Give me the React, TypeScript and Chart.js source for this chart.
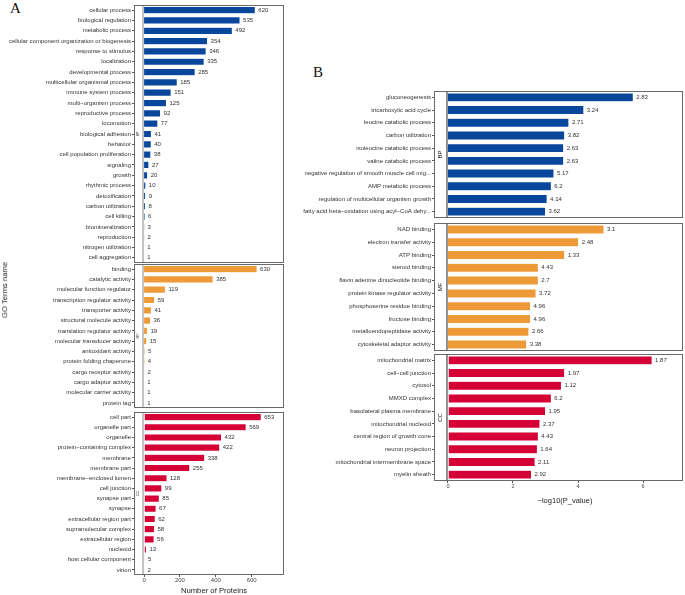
import React, { useEffect, useRef } from "react";
import { Chart, registerables } from "chart.js";
Chart.register(...registerables);

const FONT = "'Liberation Sans', Arial, Helvetica, sans-serif";

// ---------- Panel A (Number of Proteins) ----------
const aBPTerms = [
  "cellular process", "biological regulation", "metabolic process",
  "cellular component organization or biogenesis", "response to stimulus", "localization",
  "developmental process", "multicellular organismal process", "immune system process",
  "multi−organism process", "reproductive process", "locomotion", "biological adhesion",
  "behavior", "cell population proliferation", "signaling", "growth", "rhythmic process",
  "detoxification", "carbon utilization", "cell killing", "biomineralization",
  "reproduction", "nitrogen utilization", "cell aggregation",
];
const aBPCounts = [620, 535, 492, 354, 346, 335, 285, 185, 151, 125, 92, 77, 41, 40, 38, 27, 20, 10, 9, 8, 6, 3, 2, 1, 1];

const aMFTerms = [
  "binding", "catalytic activity", "molecular function regulator",
  "transcription regulator activity", "transporter activity", "structural molecule activity",
  "translation regulator activity", "molecular transducer activity", "antioxidant activity",
  "protein folding chaperone", "cargo receptor activity", "cargo adaptor activity",
  "molecular carrier activity", "protein tag",
];
const aMFCounts = [630, 385, 119, 59, 41, 36, 19, 15, 5, 4, 2, 1, 1, 1];

const aCCTerms = [
  "cell part", "organelle part", "organelle", "protein−containing complex", "membrane",
  "membrane part", "membrane−enclosed lumen", "cell junction", "synapse part", "synapse",
  "extracellular region part", "supramolecular complex", "extracellular region",
  "nucleoid", "host cellular component", "virion",
];
const aCCCounts = [653, 569, 432, 422, 338, 255, 128, 99, 85, 67, 62, 58, 56, 13, 5, 2];

const aXTicks = [0, 200, 400, 600];

// ---------- Panel B (-log10 P value) ----------
const bBPTerms = [
  "gluconeogenesis", "tricarboxylic acid cycle", "leucine catabolic process",
  "carbon utilization", "isoleucine catabolic process", "valine catabolic process",
  "negative regulation of smooth muscle cell mig...", "AMP metabolic process",
  "regulation of multicellular organism growth", "fatty acid beta−oxidation using acyl−CoA dehy...",
];
const bBPValues = [5.70, 4.18, 3.72, 3.59, 3.56, 3.56, 3.26, 3.18, 3.05, 3.0];
const bBPLabels = ["2.83", "3.24", "2.71", "3.82", "2.63", "2.63", "5.17", "6.2", "4.14", "3.62"];

const bMFTerms = [
  "NAD binding", "electron transfer activity", "ATP binding", "steroid binding",
  "flavin adenine dinucleotide binding", "protein kinase regulator activity",
  "phosphoserine residue binding", "fructose binding", "metalloendopeptidase activity",
  "cytoskeletal adaptor activity",
];
const bMFValues = [4.80, 4.02, 3.59, 2.78, 2.78, 2.71, 2.54, 2.54, 2.49, 2.42];
const bMFLabels = ["3.1", "2.48", "1.33", "4.43", "2.7", "3.72", "4.96", "4.96", "2.66", "3.38"];

const bCCTerms = [
  "mitochondrial matrix", "cell−cell junction", "cytosol", "MMXD complex",
  "basolateral plasma membrane", "mitochondrial nucleoid", "central region of growth cone",
  "neuron projection", "mitochondrial intermembrane space", "myelin sheath",
];
const bCCValues = [6.28, 3.59, 3.49, 3.18, 3.0, 2.83, 2.78, 2.75, 2.68, 2.57];
const bCCLabels = ["1.87", "1.97", "1.12", "6.2", "1.95", "2.37", "4.43", "1.64", "2.11", "2.92"];

const bXTicks = [0, 2, 4, 6];

const BLUE = "#08479c";
const ORANGE = "#ef9a38";
const RED = "#d40036";

type FacetProps = {
  left: number; top: number; width: number; height: number;
  terms: string[]; values: number[]; labels: string[];
  color: string; xMin: number; xMax: number; xTicks: number[] | null;
  padTop: number; padBottom: number; padRight: number;
  strip: string; stripFont: string; stripColor: string;
  stripLineColor: string; stripLineWidth: number;
  barPct: number; xAxisHeight: number; xTickSize: number;
};

function Facet(p: FacetProps) {
  const ref = useRef<HTMLCanvasElement | null>(null);
  useEffect(() => {
    if (!ref.current) return;
    const plugin = {
      id: "facetDeco",
      afterDatasetsDraw(chart: any) {
        const ctx = chart.ctx;
        const a = chart.chartArea;
        const zero = chart.scales.x.getPixelForValue(0);
        ctx.save();
        // strip separator
        const sx = zero - 1;
        ctx.strokeStyle = p.stripLineColor;
        ctx.lineWidth = p.stripLineWidth;
        ctx.beginPath();
        ctx.moveTo(sx, a.top);
        ctx.lineTo(sx, a.bottom);
        ctx.stroke();
        // panel border
        ctx.strokeStyle = "#6a6a6a";
        ctx.lineWidth = 1;
        ctx.strokeRect(a.left + 0.5, a.top + 0.5, a.right - a.left - 1, a.bottom - a.top - 1);
        // strip label
        ctx.save();
        ctx.translate((a.left + sx) / 2, (a.top + a.bottom) / 2);
        ctx.rotate(-Math.PI / 2);
        ctx.fillStyle = p.stripColor;
        ctx.font = p.stripFont;
        ctx.textAlign = "center";
        ctx.textBaseline = "middle";
        ctx.fillText(p.strip, 0, 0);
        ctx.restore();
        // value labels
        ctx.fillStyle = "#333";
        ctx.font = `6px ${FONT}`;
        ctx.textAlign = "left";
        ctx.textBaseline = "middle";
        const meta = chart.getDatasetMeta(0);
        meta.data.forEach((el: any, i: number) => {
          ctx.fillText(p.labels[i], el.x + 3, el.y);
        });
        ctx.restore();
      },
    };
    const chart = new Chart(ref.current, {
      type: "bar",
      data: {
        labels: p.terms,
        datasets: [{
          data: p.values,
          backgroundColor: p.color,
          borderColor: "rgba(255,255,255,0.55)",
          borderWidth: 0.5,
          barPercentage: p.barPct,
          categoryPercentage: 1,
        }],
      },
      options: {
        indexAxis: "y",
        animation: false,
        responsive: false,
        devicePixelRatio: 1,
        layout: { padding: { top: p.padTop, bottom: p.padBottom, right: p.padRight, left: 0 } },
        plugins: { legend: { display: false }, tooltip: { enabled: false } },
        scales: {
          y: {
            type: "category",
            offset: true,
            afterFit: (s: any) => { s.width = 134; },
            grid: { offset: false, drawOnChartArea: false, drawTicks: true, tickLength: 2, color: "#555" },
            border: { display: false },
            ticks: { autoSkip: false, padding: 1, color: "#333", font: { size: 6, family: FONT } },
          },
          x: {
            type: "linear",
            min: p.xMin,
            max: p.xMax,
            display: p.xTicks !== null,
            afterBuildTicks: (s: any) => {
              if (p.xTicks) s.ticks = p.xTicks.map((v) => ({ value: v }));
            },
            afterFit: (s: any) => { s.height = p.xAxisHeight; },
            grid: { drawOnChartArea: false, drawTicks: true, tickLength: 2, color: "#555" },
            border: { display: false },
            ticks: { padding: 0, color: "#444", maxRotation: 0, font: { size: p.xTickSize, family: FONT } },
          },
        },
      },
      plugins: [plugin],
    } as any);
    return () => chart.destroy();
  }, []);
  return (
    <canvas
      ref={ref}
      width={p.width}
      height={p.height}
      style={{ position: "absolute", left: p.left, top: p.top, width: p.width, height: p.height }}
    />
  );
}

const txt = (extra: React.CSSProperties): React.CSSProperties => ({
  position: "absolute", whiteSpace: "nowrap", lineHeight: 1, color: "#222", ...extra,
});

export default function App() {
  const common = {
    left: 0, width: 290, padRight: 6, xMin: -56, xMax: 780,
    stripFont: `3.5px ${FONT}`, stripColor: "#333",
    stripLineColor: "#b5b5b5", stripLineWidth: 1.6, barPct: 0.7, xTickSize: 6,
  };
  const commonB = {
    left: 300, width: 385, padRight: 2, xMin: -0.43, xMax: 7.23,
    stripFont: `6px ${FONT}`, stripColor: "#111",
    stripLineColor: "#222", stripLineWidth: 1, barPct: 0.7, xTickSize: 5.5,
  };
  return (
    <div style={{ position: "absolute", left: 0, top: 0, width: 685, height: 595, background: "#fff", overflow: "hidden" }}>
      <div style={txt({ left: 10, top: 1, fontSize: 15, fontFamily: "'Liberation Serif', 'Times New Roman', serif", color: "#111" })}>A</div>
      <div style={txt({ left: 313, top: 65, fontSize: 15, fontFamily: "'Liberation Serif', 'Times New Roman', serif", color: "#111" })}>B</div>

      <Facet {...common} top={0} height={268} terms={aBPTerms} values={aBPCounts} labels={aBPCounts.map(String)}
        color={BLUE} xTicks={null} padTop={5} padBottom={5} strip="BP" xAxisHeight={0} />
      <Facet {...common} top={259} height={154} terms={aMFTerms} values={aMFCounts} labels={aMFCounts.map(String)}
        color={ORANGE} xTicks={null} padTop={5} padBottom={5} strip="MF" xAxisHeight={0} />
      <Facet {...common} top={407} height={183} terms={aCCTerms} values={aCCCounts} labels={aCCCounts.map(String)}
        color={RED} xTicks={aXTicks} padTop={5} padBottom={0} strip="CC" xAxisHeight={15} />

      <Facet {...commonB} top={86} height={137} terms={bBPTerms} values={bBPValues} labels={bBPLabels}
        color={BLUE} xTicks={null} padTop={5} padBottom={5} strip="BP" xAxisHeight={0} />
      <Facet {...commonB} top={218} height={138} terms={bMFTerms} values={bMFValues} labels={bMFLabels}
        color={ORANGE} xTicks={null} padTop={5} padBottom={5} strip="MF" xAxisHeight={0} />
      <Facet {...commonB} top={349} height={144} terms={bCCTerms} values={bCCValues} labels={bCCLabels}
        color={RED} xTicks={bXTicks} padTop={5} padBottom={0} strip="CC" xAxisHeight={12} />

      <div style={txt({ left: 214, top: 591, fontSize: 7.7, fontFamily: FONT, transform: "translate(-50%, -50%)" })}>Number of Proteins</div>
      <div style={txt({ left: 565, top: 501, fontSize: 7.5, fontFamily: FONT, transform: "translate(-50%, -50%)" })}>−log10(P_value)</div>
      <div style={txt({ left: 5, top: 290, fontSize: 7.7, fontFamily: FONT, transform: "translate(-50%, -50%) rotate(-90deg)" })}>GO Terms name</div>
    </div>
  );
}
